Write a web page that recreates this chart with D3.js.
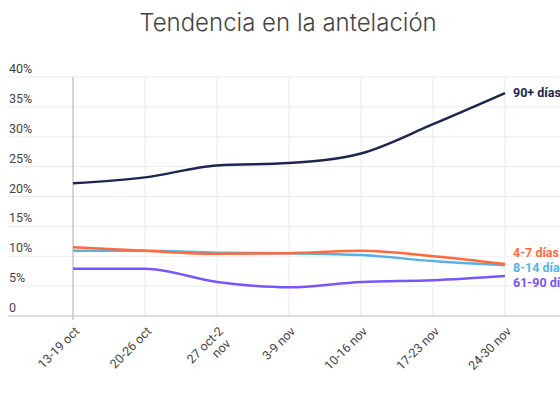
<!DOCTYPE html>
<html>
<head>
<meta charset="utf-8">
<script src="https://cdn.jsdelivr.net/npm/d3@7"></script>
<style>
  body { margin: 0; background: #fff; overflow: hidden; }
  svg { font-family: Roboto, "Noto Sans", sans-serif; }
  .title { font-family: Inter, Roboto, sans-serif; font-size: 24px; fill: #444; font-weight: 300; }
  .ytick { font-size: 12.5px; fill: #444; }
  .xtick { font-size: 12.5px; fill: #444; }
  .lbl { font-size: 12.5px; font-weight: 700; }
</style>
</head>
<body>
<svg id="chart" width="560" height="393"></svg>
<script>
var weeks = ["13-19 oct", "20-26 oct", "27 oct-2 nov", "3-9 nov", "10-16 nov", "17-23 nov", "24-30 nov"]
var yTicks = [0, 5, 10, 15, 20, 25, 30, 35, 40]

var d90 = [22.2, 23.2, 25.2, 25.6, 27.2, 32.1, 37.3]
var d47 = [11.5, 10.9, 10.4, 10.5, 10.9, 10.0, 8.7]
var d814 = [10.9, 10.9, 10.6, 10.5, 10.2, 9.2, 8.5]
var d6190 = [7.9, 7.9, 5.7, 4.8, 5.7, 6.0, 6.7]

var series = [
    { name: "90+ días", values: d90, color: "#1d2651", labelY: 93 },
    { name: "4-7 días", values: d47, color: "#ff6a3d", labelY: 253 },
    { name: "8-14 días", values: d814, color: "#56b2e6", labelY: 268 },
    { name: "61-90 días", values: d6190, color: "#7a55f7", labelY: 283 }
]

var svg = d3.select("#chart")
var gLeft = 8, gRight = 560, gTop = 77, gBottom = 316

var x = d3.scalePoint().domain(weeks).range([73, 505])
var y = d3.scaleLinear().domain([0, 40]).range([gBottom, gTop])

svg.append("text").attr("class", "title")
    .attr("x", 288).attr("y", 31)
    .attr("text-anchor", "middle")
    .text("Tendencia en la antelación")

// y axis title, mostly cut off at the left edge
svg.append("text")
    .attr("transform", "translate(-1,196) rotate(-90)")
    .attr("text-anchor", "middle")
    .style("font-size", "12px").style("fill", "#4a90c8")
    .text("% total")

// horizontal grid
svg.append("g").selectAll("line")
    .data(yTicks.slice(1))
    .enter().append("line")
    .attr("x1", gLeft).attr("x2", gRight)
    .attr("y1", function(d) { return y(d) }).attr("y2", function(d) { return y(d) })
    .style("stroke", "#ebebeb").style("stroke-width", 1)

// vertical grid
var step = x.step()
svg.append("g").selectAll("line")
    .data(weeks.slice(1).concat(["extra"]))
    .enter().append("line")
    .attr("x1", function(d, i) { return x(weeks[0]) + step * (i + 1) })
    .attr("x2", function(d, i) { return x(weeks[0]) + step * (i + 1) })
    .attr("y1", gTop).attr("y2", gBottom)
    .style("stroke", "#ebebeb").style("stroke-width", 1)

svg.append("line")
    .attr("x1", x(weeks[0])).attr("x2", x(weeks[0]))
    .attr("y1", gTop).attr("y2", gBottom + 4)
    .style("stroke", "#bdbdbd").style("stroke-width", 1.2)

svg.append("line")
    .attr("x1", gLeft).attr("x2", gRight)
    .attr("y1", gBottom).attr("y2", gBottom)
    .style("stroke", "#bdbdbd").style("stroke-width", 1.2)

// y tick labels
svg.append("g").selectAll("text")
    .data(yTicks)
    .enter().append("text")
    .attr("class", "ytick")
    .attr("x", 9).attr("y", function(d) { return y(d) - 4 })
    .text(function(d) { return d == 0 ? "0" : d + "%" })

// x tick labels
var xl = svg.append("g").selectAll("text")
    .data(weeks)
    .enter().append("text")
    .attr("class", "xtick")
    .attr("text-anchor", "end")
    .attr("transform", function(d) { return "translate(" + (x(d) + 4) + "," + (gBottom + 13) + ") rotate(-45)" })
xl.each(function(d) {
    var t = d3.select(this)
    if (d == "27 oct-2 nov") {
        t.append("tspan").attr("x", 0).attr("dy", "0.35em").text("27 oct-2")
        t.append("tspan").attr("x", 0).attr("dy", "1.1em").attr("dx", "-0.3em").text("nov")
    } else {
        t.append("tspan").attr("x", 0).attr("dy", "0.35em").text(d)
    }
})

var line = d3.line()
    .x(function(d, i) { return x(weeks[i]) })
    .y(function(d) { return y(d) })
    .curve(d3.curveMonotoneX)

svg.append("g").selectAll("path")
    .data(series.slice().reverse())
    .enter().append("path")
    .attr("d", function(d) { return line(d.values) })
    .style("fill", "none")
    .style("stroke", function(d) { return d.color })
    .style("stroke-width", 2.5)

svg.append("g").selectAll("text")
    .data(series)
    .enter().append("text")
    .attr("class", "lbl")
    .attr("x", 513).attr("y", function(d) { return d.labelY })
    .attr("dy", "0.35em")
    .style("fill", function(d) { return d.color })
    .text(function(d) { return d.name })
</script>
</body>
</html>
